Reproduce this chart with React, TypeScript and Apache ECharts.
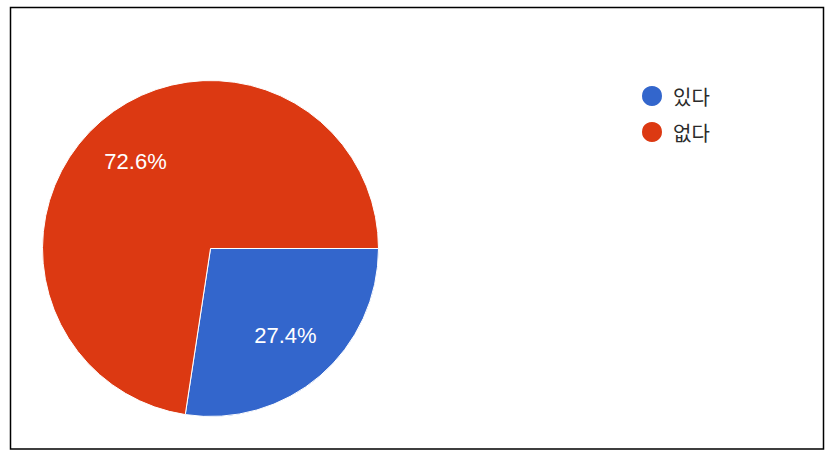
import React, { useEffect, useRef } from "react";
import * as echarts from "echarts";

const categories = ["있다", "없다"];
const values = [27.4, 72.6];
const colors = ["#3366CC", "#DC3912"];

export default function App() {
  const ref = useRef<HTMLDivElement>(null);
  useEffect(() => {
    document.body.style.margin = "0";
    const chart = echarts.init(ref.current!, null, { renderer: "svg" });
    const data = categories.map((name, i) => ({
      name,
      value: values[i],
      itemStyle: { color: colors[i] },
    }));
    chart.setOption({
      animation: false,
      backgroundColor: "#ffffff",
      legend: {
        orient: "vertical",
        left: 640,
        top: 84,
        padding: 0,
        icon: "circle",
        itemWidth: 22,
        itemHeight: 22,
        itemGap: 12,
        selectedMode: false,
        data: categories.map((name, i) => ({ name, itemStyle: { color: colors[i] } })),
        textStyle: {
          fontFamily: "Noto Sans CJK KR",
          fontSize: 20,
          color: "#2a2a2a",
          padding: [0, 0, 0, 5],
        },
      },
      graphic: [
        {
          type: "rect",
          shape: { x: 10.5, y: 7.5, width: 813, height: 441.5 },
          style: { fill: "none", stroke: "#000000", lineWidth: 1.5 },
          silent: true,
        },
      ],
      series: [
        {
          type: "pie",
          radius: 168,
          center: [210.5, 248.5],
          startAngle: 0,
          clockwise: true,
          silent: true,
          label: { show: false },
          labelLine: { show: false },
          itemStyle: { borderColor: "#ffffff", borderWidth: 1 },
          emphasis: { disabled: true },
          data,
        },
        {
          type: "pie",
          radius: [96, 128],
          center: [210.5, 248.5],
          startAngle: 0,
          clockwise: true,
          silent: true,
          emphasis: { disabled: true },
          itemStyle: { color: "rgba(0,0,0,0)", borderWidth: 0 },
          label: {
            show: true,
            position: "inside",
            color: "#ffffff",
            fontFamily: "Liberation Sans, Arial, sans-serif",
            fontSize: 22,
            formatter: (p: any) => p.value.toFixed(1) + "%",
          },
          labelLine: { show: false },
          data: categories.map((name, i) => ({ name, value: values[i] })),
        },
      ],
    });
    return () => chart.dispose();
  }, []);
  return (
    <div
      ref={ref}
      style={{ position: "fixed", left: 0, top: 0, width: 833, height: 454 }}
    />
  );
}
